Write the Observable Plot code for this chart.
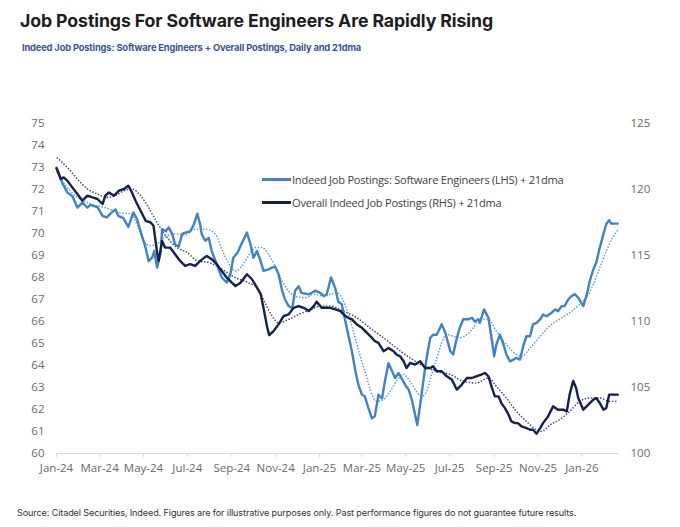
<!DOCTYPE html>
<html>
<head>
<meta charset="utf-8">
<script src="https://cdn.jsdelivr.net/npm/d3@7"></script>
<script src="https://cdn.jsdelivr.net/npm/@observablehq/plot@0.6"></script>
<style>
  html, body { margin: 0; padding: 0; background: #ffffff; }
  #wrap { position: relative; width: 680px; height: 527px; overflow: hidden; font-family: Inter, "Open Sans", sans-serif; }
  #title { position: absolute; left: 20px; top: 10px; font-size: 17.7px; font-weight: 700; color: #1c1c24; white-space: nowrap; letter-spacing: -0.1px; }
  #subtitle { position: absolute; left: 22px; top: 42px; font-size: 9.3px; font-weight: 700; color: #3b4f9a; white-space: nowrap; letter-spacing: -0.15px; }
  #chart { position: absolute; left: 0; top: 60px; }
  #legend { position: absolute; left: 262px; top: 168px; font-family: "Open Sans", sans-serif; font-size: 11.1px; color: #404040; }
  .li { display: flex; align-items: center; height: 23px; white-space: nowrap; letter-spacing: -0.25px; }
  .sw { width: 29px; height: 2.5px; margin-right: 1px; }
  #caption { position: absolute; left: 17px; top: 507px; font-family: Inter, sans-serif; font-size: 9.1px; color: #333; white-space: nowrap; letter-spacing: -0.12px; }
</style>
</head>
<body>
<div id="wrap">
  <div id="title">Job Postings For Software Engineers Are Rapidly Rising</div>
  <div id="subtitle">Indeed Job Postings: Software Engineers + Overall Postings, Daily and 21dma</div>
  <div id="chart"></div>
  <div id="legend"></div>
  <div id="caption">Source: Citadel Securities, Indeed. Figures are for illustrative purposes only. Past performance figures do not guarantee future results.</div>
</div>
<script>
// ---------- DATA ----------
// Software engineers job postings (LHS), daily
const sweDates = ["2024-01-01","2024-01-09","2024-01-16","2024-01-23","2024-01-30","2024-02-06","2024-02-13","2024-02-17","2024-02-27","2024-03-05","2024-03-11","2024-03-16","2024-03-23","2024-03-27","2024-04-03","2024-04-10","2024-04-17","2024-04-22","2024-04-27","2024-05-04","2024-05-08","2024-05-13","2024-05-16","2024-05-20","2024-05-25","2024-05-27","2024-06-01","2024-06-05","2024-06-10","2024-06-14","2024-06-19","2024-06-24","2024-06-28","2024-07-05","2024-07-10","2024-07-15","2024-07-19","2024-07-21","2024-07-26","2024-07-31","2024-08-04","2024-08-11","2024-08-18","2024-08-25","2024-08-30","2024-09-03","2024-09-09","2024-09-14","2024-09-22","2024-09-27","2024-10-01","2024-10-06","2024-10-11","2024-10-15","2024-10-22","2024-10-27","2024-10-31","2024-11-05","2024-11-10","2024-11-14","2024-11-19","2024-11-24","2024-11-28","2024-12-03","2024-12-07","2024-12-17","2024-12-26","2025-01-02","2025-01-07","2025-01-11","2025-01-17","2025-01-23","2025-01-27","2025-02-01","2025-02-06","2025-02-10","2025-02-15","2025-02-20","2025-02-24","2025-03-01","2025-03-05","2025-03-10","2025-03-15","2025-03-19","2025-03-24","2025-03-29","2025-04-02","2025-04-07","2025-04-12","2025-04-16","2025-04-21","2025-04-25","2025-04-30","2025-05-05","2025-05-09","2025-05-14","2025-05-17","2025-05-21","2025-05-26","2025-05-30","2025-06-04","2025-06-08","2025-06-13","2025-06-20","2025-06-25","2025-07-02","2025-07-06","2025-07-11","2025-07-15","2025-07-20","2025-07-27","2025-08-01","2025-08-05","2025-08-10","2025-08-12","2025-08-18","2025-08-24","2025-08-29","2025-09-01","2025-09-04","2025-09-09","2025-09-14","2025-09-18","2025-09-23","2025-09-28","2025-10-02","2025-10-07","2025-10-12","2025-10-16","2025-10-21","2025-10-25","2025-10-30","2025-11-04","2025-11-08","2025-11-13","2025-11-20","2025-11-25","2025-11-29","2025-12-04","2025-12-08","2025-12-13","2025-12-18","2025-12-22","2025-12-27","2026-01-03","2026-01-08","2026-01-12","2026-01-17","2026-01-21","2026-01-26","2026-01-31","2026-02-04","2026-02-08","2026-02-11","2026-02-20"];
const sweValues = [73.0,72.3,71.87,71.7,71.18,71.4,71.18,71.3,71.2,70.8,70.73,70.9,71.1,70.8,70.7,70.3,70.96,70.66,70.1,69.36,68.75,68.9,69.2,68.45,69.13,70.2,70.1,70.27,69.98,69.5,69.4,69.98,70.04,70.1,70.4,70.9,70.4,69.98,69.67,69.8,69.2,68.6,68.0,67.77,68.16,68.9,69.13,69.5,70.04,69.5,68.9,69.2,68.75,68.3,68.37,68.45,68.5,68.15,67.4,67.0,66.7,66.6,67.4,67.6,67.3,67.23,67.4,67.3,67.15,67.24,68.0,67.5,66.9,66.78,66.0,65.4,64.65,63.74,63.13,62.67,62.6,62.06,61.6,61.7,62.67,62.5,63.3,64.1,63.74,63.43,63.66,63.43,63.13,62.9,62.5,61.76,61.3,62.2,63.43,64.34,65.25,65.4,65.4,65.87,65.49,64.65,64.5,65.25,65.7,66.1,66.1,66.17,66.0,66.1,65.94,66.55,66.17,65.1,64.42,64.95,65.4,64.95,64.5,64.19,64.27,64.35,64.27,64.95,65.33,65.33,65.87,65.94,66.1,66.32,66.24,66.4,66.55,66.47,66.7,66.7,67.0,67.16,67.24,67.08,66.7,67.24,67.84,68.37,68.67,69.36,69.97,70.43,70.6,70.45,70.45];

// Software engineers 21dma (LHS)
const sweMaDates = ["2024-01-02","2024-01-14","2024-01-27","2024-02-17","2024-03-09","2024-03-30","2024-04-13","2024-04-23","2024-05-01","2024-05-11","2024-05-22","2024-05-31","2024-06-14","2024-06-28","2024-07-12","2024-07-26","2024-08-09","2024-08-18","2024-08-27","2024-09-06","2024-09-15","2024-09-24","2024-10-04","2024-10-13","2024-10-22","2024-10-31","2024-11-10","2024-11-19","2024-11-28","2024-12-12","2024-12-24","2025-01-07","2025-01-16","2025-01-25","2025-02-08","2025-02-17","2025-02-26","2025-03-08","2025-03-15","2025-03-22","2025-03-31","2025-04-09","2025-04-18","2025-04-28","2025-05-07","2025-05-16","2025-05-23","2025-05-30","2025-06-06","2025-06-13","2025-06-20","2025-06-27","2025-07-06","2025-07-15","2025-07-25","2025-08-03","2025-08-12","2025-08-24","2025-09-04","2025-09-18","2025-10-02","2025-10-09","2025-10-21","2025-11-04","2025-11-17","2025-12-01","2025-12-15","2025-12-29","2026-01-07","2026-01-17","2026-01-26","2026-02-04","2026-02-13","2026-02-20"];
const sweMaValues = [72.77,72.17,71.72,71.35,71.17,70.94,70.9,70.35,69.66,69.44,69.57,69.85,69.98,69.94,70.2,70.2,69.97,69.29,68.68,68.3,68.52,68.98,69.36,69.36,69.06,68.52,67.84,67.38,67.16,67.08,67.23,67.16,67.23,67.31,66.55,65.56,64.5,63.43,62.67,62.37,62.45,62.82,63.28,63.59,63.28,62.82,62.6,62.82,63.59,64.34,65.03,65.41,65.33,65.26,65.41,65.71,66.1,66.1,65.56,64.95,64.5,64.42,64.8,65.33,65.79,66.1,66.4,66.78,67.08,67.69,68.45,69.2,69.82,70.15];

// Overall Indeed job postings (RHS), daily
const allDates = ["2024-01-01","2024-01-07","2024-01-11","2024-01-16","2024-01-23","2024-01-30","2024-02-06","2024-02-13","2024-02-20","2024-02-27","2024-03-05","2024-03-09","2024-03-14","2024-03-21","2024-03-28","2024-04-04","2024-04-10","2024-04-15","2024-04-20","2024-04-27","2024-05-04","2024-05-11","2024-05-15","2024-05-20","2024-05-22","2024-05-27","2024-05-31","2024-06-07","2024-06-14","2024-06-21","2024-06-28","2024-07-05","2024-07-12","2024-07-19","2024-07-28","2024-08-04","2024-08-11","2024-08-18","2024-08-25","2024-09-01","2024-09-06","2024-09-13","2024-09-22","2024-09-29","2024-10-06","2024-10-11","2024-10-15","2024-10-20","2024-10-23","2024-10-29","2024-11-05","2024-11-12","2024-11-19","2024-11-26","2024-12-03","2024-12-10","2024-12-17","2024-12-24","2024-12-28","2025-01-04","2025-01-16","2025-01-23","2025-01-30","2025-02-06","2025-02-10","2025-02-15","2025-02-22","2025-03-01","2025-03-08","2025-03-15","2025-03-19","2025-03-24","2025-03-31","2025-04-07","2025-04-14","2025-04-18","2025-04-23","2025-04-28","2025-05-02","2025-05-07","2025-05-14","2025-05-21","2025-05-28","2025-06-04","2025-06-08","2025-06-13","2025-06-20","2025-06-27","2025-07-04","2025-07-11","2025-07-18","2025-07-25","2025-08-01","2025-08-07","2025-08-14","2025-08-19","2025-08-24","2025-08-29","2025-09-02","2025-09-07","2025-09-11","2025-09-16","2025-09-21","2025-09-25","2025-09-30","2025-10-04","2025-10-09","2025-10-16","2025-10-21","2025-10-25","2025-10-30","2025-11-04","2025-11-08","2025-11-15","2025-11-22","2025-11-29","2025-12-06","2025-12-11","2025-12-15","2025-12-20","2025-12-24","2025-12-27","2026-01-03","2026-01-10","2026-01-17","2026-01-21","2026-01-26","2026-01-31","2026-02-04","2026-02-08","2026-02-20"];
const allValues = [121.6,120.8,120.92,120.67,120.16,119.66,119.15,119.53,119.4,119.28,118.9,119.53,119.78,119.53,119.91,120.04,120.29,119.78,119.15,118.39,117.63,117.5,117.25,115.22,114.59,116.11,115.6,115.6,115.1,114.59,114.21,114.34,114.21,114.59,114.97,114.72,114.34,113.83,113.32,112.94,112.69,112.94,113.58,113.2,112.56,112.1,111.04,109.6,108.97,109.27,109.78,110.41,110.54,111.04,111.17,111.04,110.79,111.17,111.5,111.04,111.04,110.92,110.79,110.41,110.28,110.16,109.78,109.52,109.14,108.76,108.51,108.38,107.75,108.0,107.75,107.5,107.37,106.99,106.48,106.86,106.74,106.99,106.48,106.48,106.61,106.23,106.23,105.85,105.6,104.84,105.22,105.72,105.72,105.85,105.98,106.1,105.85,104.96,104.33,104.33,103.82,103.44,102.94,102.43,102.3,102.3,102.05,101.92,101.8,101.8,101.5,101.92,102.3,102.81,103.57,103.32,103.32,103.19,104.46,105.5,104.96,104.2,103.32,103.7,104.08,104.2,103.82,103.32,103.44,104.46,104.46];

// Overall postings 21dma (RHS)
const allMaDates = ["2024-01-02","2024-01-16","2024-01-30","2024-02-13","2024-02-27","2024-03-11","2024-03-23","2024-04-04","2024-04-15","2024-04-27","2024-05-08","2024-05-20","2024-06-03","2024-06-17","2024-07-01","2024-07-15","2024-07-31","2024-08-18","2024-09-06","2024-09-24","2024-10-08","2024-10-17","2024-10-27","2024-11-05","2024-11-19","2024-12-03","2024-12-21","2025-01-02","2025-01-16","2025-02-03","2025-02-22","2025-03-12","2025-03-31","2025-04-18","2025-05-07","2025-05-26","2025-06-13","2025-07-02","2025-07-20","2025-08-07","2025-08-24","2025-09-04","2025-09-18","2025-10-02","2025-10-16","2025-10-30","2025-11-06","2025-11-18","2025-12-01","2025-12-15","2025-12-29","2026-01-12","2026-01-26","2026-02-09","2026-02-20"];
const allMaValues = [122.39,121.68,120.8,120.04,119.66,119.4,119.53,119.91,120.04,119.53,118.64,117.5,116.36,115.6,115.22,114.59,114.46,113.96,113.32,112.94,112.44,111.42,110.41,109.9,110.16,110.54,110.92,111.17,111.17,110.79,110.28,109.52,108.76,108.0,107.24,106.61,106.23,105.98,105.47,105.34,105.72,105.09,104.2,103.19,102.43,101.8,101.67,102.18,102.56,103.19,103.95,104.2,104.2,103.95,103.95];

// Axis ticks
const leftTicks = [60,61,62,63,64,65,66,67,68,69,70,71,72,73,74,75];
const rightTicks = [100,105,110,115,120,125];
const xTicks = ["2024-01-01","2024-03-01","2024-05-01","2024-07-01","2024-09-01","2024-11-01","2025-01-01","2025-03-01","2025-05-01","2025-07-01","2025-09-01","2025-11-01","2026-01-01"];
const xDomain = ["2024-01-01","2026-02-21"];

const seriesNames = ["Indeed Job Postings: Software Engineers (LHS) + 21dma", "Overall Indeed Job Postings (RHS) + 21dma"];

// ---------- BUILD ----------
const toRows = (dates, vals) => dates.map((d, i) => ({date: new Date(d + "T00:00:00Z"), v: vals[i]}));
const swe = toRows(sweDates, sweValues);
const sweMa = toRows(sweMaDates, sweMaValues);
const all = toRows(allDates, allValues);
const allMa = toRows(allMaDates, allMaValues);

// RHS (100..125) maps linearly onto LHS (60..75)
const rhsToLhs = r => 60 + (r - 100) * 15 / 25;
const lhsToRhs = l => 100 + (l - 60) * 25 / 15;

const cLight = "#3f82c8";
const cDark = "#13214f";
const cLightDot = "#5b9bd8";
const cDarkDot = "#3d4870";
const axisGrey = "#6a6a6a";
const fmt = d3.utcFormat("%b-%y");

const chart = Plot.plot({
  width: 680,
  height: 435,
  marginLeft: 56,
  marginRight: 62,
  marginTop: 63,
  marginBottom: 42,
  style: {fontFamily: "'Open Sans', sans-serif", fontSize: "11px", color: axisGrey, background: "white"},
  x: {type: "utc", domain: xDomain.map(d => new Date(d + "T00:00:00Z"))},
  y: {domain: [60, 75]},
  marks: [
    Plot.ruleY([60], {stroke: "#d9d9d9", strokeWidth: 1.2}),
    Plot.axisX(xTicks.map(d => new Date(d + "T00:00:00Z")), {tickFormat: fmt, tickSize: 4, tickPadding: 6, stroke: "#d9d9d9", fill: axisGrey, fontSize: 11.5, label: null}),
    Plot.axisY(leftTicks, {anchor: "left", tickSize: 0, tickPadding: 12, fill: axisGrey, fontSize: 11.5, label: null}),
    Plot.axisY(rightTicks.map(rhsToLhs), {anchor: "right", tickSize: 0, tickPadding: 12, fill: axisGrey, fontSize: 11.5, label: null, tickFormat: d => Math.round(lhsToRhs(d))}),
    Plot.line(allMa, {x: "date", y: d => rhsToLhs(d.v), stroke: cDarkDot, strokeWidth: 1.6, strokeDasharray: "0.1,3", strokeLinecap: "round", curve: "monotone-x"}),
    Plot.line(sweMa, {x: "date", y: "v", stroke: cLightDot, strokeWidth: 1.6, strokeDasharray: "0.1,3", strokeLinecap: "round", curve: "monotone-x"}),
    Plot.line(swe, {x: "date", y: "v", stroke: cLight, strokeWidth: 2.4, strokeLinejoin: "round"}),
    Plot.line(all, {x: "date", y: d => rhsToLhs(d.v), stroke: cDark, strokeWidth: 2.4, strokeLinejoin: "round"})
  ]
});
document.getElementById("chart").appendChild(chart);

// Legend
const legend = document.getElementById("legend");
[[seriesNames[0], cLight], [seriesNames[1], cDark]].forEach(([name, color]) => {
  const row = document.createElement("div");
  row.className = "li";
  const sw = document.createElement("div");
  sw.className = "sw";
  sw.style.background = color;
  const t = document.createElement("span");
  t.textContent = name;
  row.appendChild(sw);
  row.appendChild(t);
  legend.appendChild(row);
});
</script>
</body>
</html>
